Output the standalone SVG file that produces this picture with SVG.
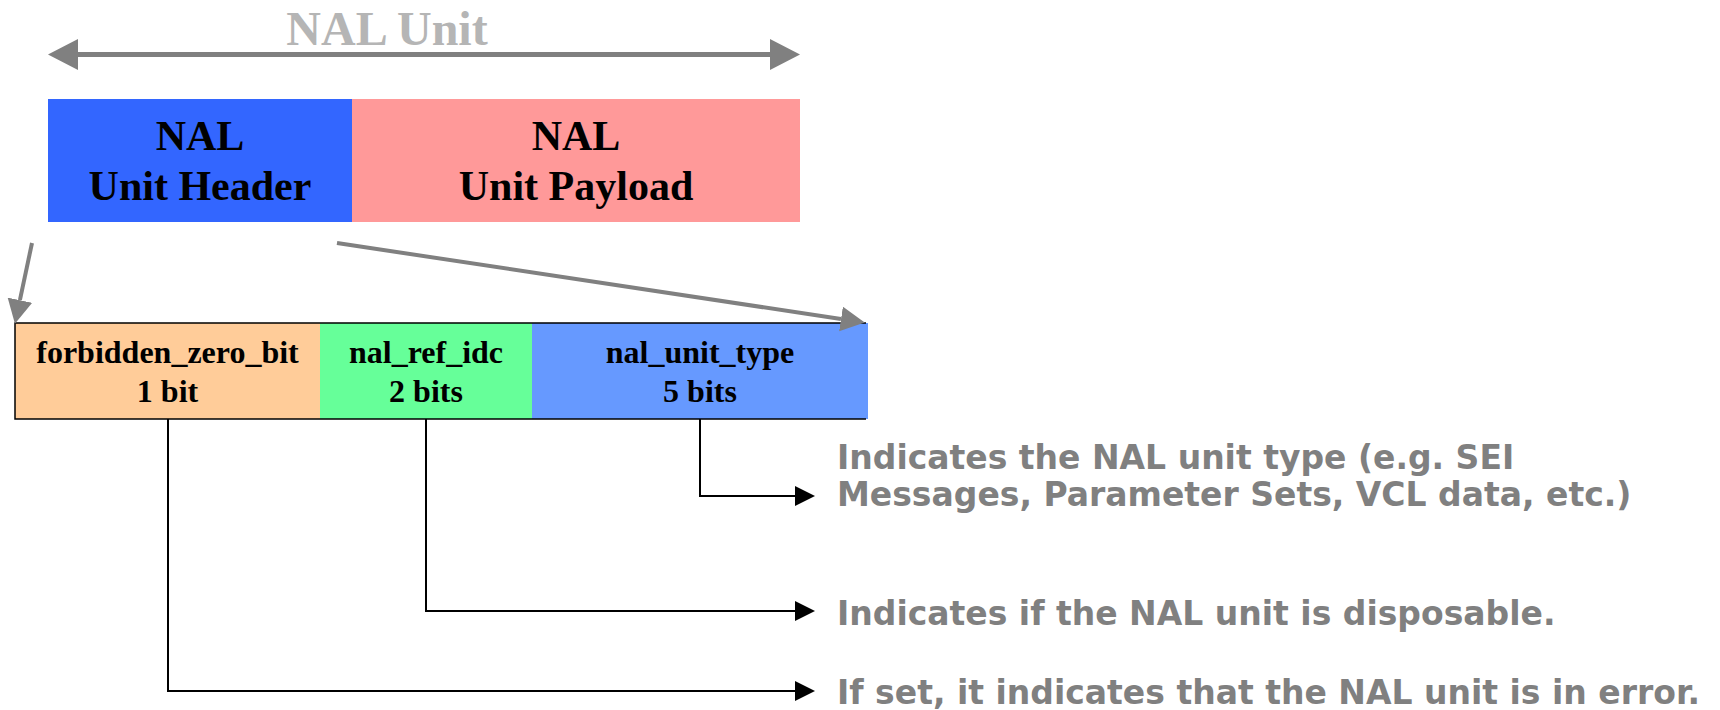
<svg xmlns="http://www.w3.org/2000/svg" width="1720" height="710" viewBox="0 0 1720 710">
  <style>
    .serif { font-family: "Liberation Serif", "Times New Roman", serif; font-weight: bold; text-anchor: middle; fill: #000; }
    .big { font-size: 42px; }
    .field { font-size: 32px; }
    .title { font-family: "Liberation Serif", "Times New Roman", serif; font-weight: bold; font-size: 48px; fill: #b5b5b5; text-anchor: middle; }
    .note { font-family: "DejaVu Sans", Verdana, sans-serif; font-weight: bold; font-size: 33px; fill: #808080; }
    .gray-arrow { stroke: #808080; stroke-width: 4; fill: none; }
    .span-arrow { stroke: #808080; stroke-width: 5; fill: none; }
    .link { stroke: #000; stroke-width: 2; fill: none; }
  </style>
  <defs>
    <marker id="grayHead" markerUnits="userSpaceOnUse" markerWidth="26" markerHeight="26" refX="0" refY="12.5" orient="auto">
      <path d="M0,0 L24,12.5 L0,25 z" fill="#808080"/>
    </marker>
    <marker id="spanHead" markerUnits="userSpaceOnUse" markerWidth="32" markerHeight="32" refX="0" refY="15.5" orient="auto-start-reverse">
      <path d="M0,0 L30,15.5 L0,31 z" fill="#808080"/>
    </marker>
    <marker id="blackHead" markerUnits="userSpaceOnUse" markerWidth="22" markerHeight="22" refX="0" refY="10" orient="auto">
      <path d="M0,0 L20,10 L0,20 z" fill="#000"/>
    </marker>
  </defs>

  <!-- overall NAL unit span -->
  <g id="nal-unit-span">
    <text class="title" x="387" y="45">NAL Unit</text>
    <line class="span-arrow" x1="78" y1="54.5" x2="770" y2="54.5" marker-start="url(#spanHead)" marker-end="url(#spanHead)"/>
  </g>

  <!-- NAL unit: header + payload -->
  <g id="nal-header">
    <rect x="48" y="99" width="304" height="123" fill="#3366FF"/>
    <text class="serif big" x="200" y="150">NAL</text>
    <text class="serif big" x="200" y="200">Unit Header</text>
  </g>
  <g id="nal-payload">
    <rect x="352" y="99" width="448" height="123" fill="#FF9999"/>
    <text class="serif big" x="576" y="150">NAL</text>
    <text class="serif big" x="576" y="200">Unit Payload</text>
  </g>

  <!-- header byte fields -->
  <g id="forbidden-zero-bit">
    <rect x="15" y="323" width="305" height="96" fill="#FFCC99"/>
    <text class="serif field" x="167.5" y="363">forbidden_zero_bit</text>
    <text class="serif field" x="167.5" y="402">1 bit</text>
  </g>
  <g id="nal-ref-idc">
    <rect x="320" y="323" width="212" height="96" fill="#66FF99"/>
    <text class="serif field" x="426" y="363">nal_ref_idc</text>
    <text class="serif field" x="426" y="402">2 bits</text>
  </g>
  <g id="nal-unit-type">
    <rect x="532" y="323" width="336" height="96" fill="#6699FF"/>
    <text class="serif field" x="700" y="363">nal_unit_type</text>
    <text class="serif field" x="700" y="402">5 bits</text>
  </g>
  <path d="M866,323 H15 V419 H866" fill="none" stroke="#000" stroke-width="1.5"/>

  <!-- field descriptions -->
  <g id="desc-type">
    <text class="note" x="837" y="469">Indicates the NAL unit type (e.g. SEI</text>
    <text class="note" x="837" y="506">Messages, Parameter Sets, VCL data, etc.)</text>
  </g>
  <g id="desc-ref">
    <text class="note" x="837" y="625">Indicates if the NAL unit is disposable.</text>
  </g>
  <g id="desc-forbidden">
    <text class="note" x="837" y="704">If set, it indicates that the NAL unit is in error.</text>
  </g>

  <!-- connectors -->
  <g id="connectors">
    <line class="gray-arrow" x1="32" y1="243" x2="19.9" y2="300.2" marker-end="url(#grayHead)"/>
    <line class="gray-arrow" x1="337" y1="243" x2="841" y2="319" marker-end="url(#grayHead)"/>
    <path class="link" d="M700,419 V496 H795" marker-end="url(#blackHead)"/>
    <path class="link" d="M426,419 V611 H795" marker-end="url(#blackHead)"/>
    <path class="link" d="M168,419 V691 H795" marker-end="url(#blackHead)"/>
  </g>
</svg>
